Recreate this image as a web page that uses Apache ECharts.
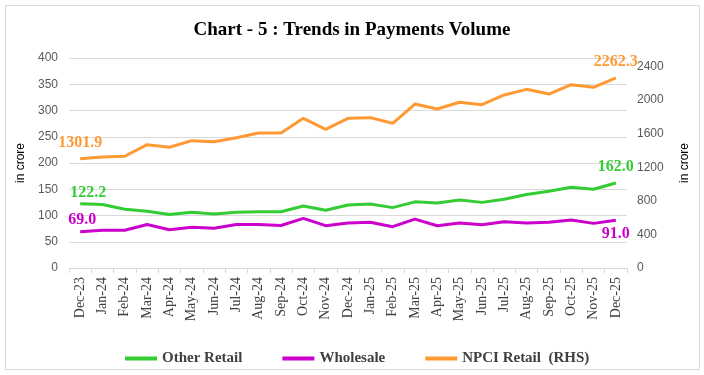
<!DOCTYPE html>
<html>
<head>
<meta charset="utf-8">
<script src="https://cdn.jsdelivr.net/npm/echarts@6/dist/echarts.min.js"></script>
<style>
  html, body { margin: 0; padding: 0; background: #fff; }
  #chart { width: 704px; height: 375px; }
</style>
</head>
<body>
<div id="chart"></div>
<script>
const months = [
  'Dec-23', 'Jan-24', 'Feb-24', 'Mar-24', 'Apr-24', 'May-24', 'Jun-24',
  'Jul-24', 'Aug-24', 'Sep-24', 'Oct-24', 'Nov-24', 'Dec-24', 'Jan-25',
  'Feb-25', 'Mar-25', 'Apr-25', 'May-25', 'Jun-25', 'Jul-25', 'Aug-25',
  'Sep-25', 'Oct-25', 'Nov-25', 'Dec-25'
]
// left axis, in crore
const otherRetail = [
  122.2, 121, 112, 108, 102, 106, 103, 106, 107, 107, 118, 110, 120,
  122, 115, 126, 124, 129.5, 125, 131, 140, 146, 153.7, 150, 162.0
]
const wholesale = [
  69.0, 71.8, 72, 83, 73, 77.5, 75.6, 83, 83, 81, 94.6, 80.6, 85.7,
  87, 78.7, 93, 80.6, 85.7, 82.5, 88, 85.7, 87, 91.4, 85, 91.0
]
// right axis, in crore
const npciRetail = [
  1301.9, 1321, 1330, 1468, 1437, 1516, 1504, 1551, 1607, 1607, 1782, 1651, 1782,
  1790, 1723, 1952, 1893, 1973, 1944, 2060, 2127, 2071, 2182, 2151, 2262.3
]

const labelFont = { fontFamily: 'Liberation Serif', fontWeight: 'bold', fontSize: 16 }

// only first and last points carry a label
function withEndLabels(values, color, firstPos, lastPos, firstOffset, lastOffset) {
  return values.map((v, i) => {
    if (i !== 0 && i !== values.length - 1) return v
    return {
      value: v,
      label: Object.assign({
        show: true,
        color: color,
        position: i === 0 ? firstPos : lastPos,
        distance: 8,
        offset: i === 0 ? (firstOffset || [0, 0]) : (lastOffset || [0, 0]),
        formatter: p => p.value.toFixed(1)
      }, labelFont)
    }
  })
}

function lineSeries(name, axis, color, data) {
  return {
    name: name,
    type: 'line',
    yAxisIndex: axis,
    symbol: 'circle',
    symbolSize: 0,
    showSymbol: true,
    color: color,
    lineStyle: { width: 3 },
    data: data
  }
}

const chart = echarts.init(document.getElementById('chart'))
chart.setOption({
  animation: false,
  graphic: [{
    type: 'rect',
    shape: { x: 5.5, y: 5.5, width: 694, height: 364 },
    style: { fill: 'none', stroke: '#d9d9d9', lineWidth: 1 },
    silent: true
  }],
  title: {
    text: 'Chart - 5 : Trends in Payments Volume',
    left: 'center',
    top: 16,
    textStyle: { fontFamily: 'Liberation Serif', fontWeight: 'bold', fontSize: 19, color: '#000' }
  },
  legend: {
    left: 120,
    top: 346,
    itemWidth: 32,
    itemHeight: 4,
    itemGap: 40,
    icon: 'rect',
    textStyle: { fontFamily: 'Liberation Serif', fontWeight: 'bold', fontSize: 15, color: '#404040' }
  },
  grid: { left: 69, right: 77, top: 58, bottom: 107 },
  xAxis: {
    type: 'category',
    data: months,
    boundaryGap: true,
    axisLine: { lineStyle: { color: '#d9d9d9' } },
    axisTick: { show: true, length: 5, lineStyle: { color: '#d9d9d9' } },
    axisLabel: {
      rotate: 90,
      interval: 0,
      margin: 9,
      fontFamily: 'Liberation Serif',
      fontSize: 14,
      color: '#404040'
    }
  },
  yAxis: [
    {
      type: 'value',
      min: 0,
      max: 400,
      interval: 50,
      name: 'in crore',
      nameLocation: 'middle',
      nameGap: 40,
      nameRotate: 90,
      nameTextStyle: { fontFamily: 'Liberation Sans', fontSize: 12, color: '#000' },
      axisLine: { show: false },
      axisTick: { show: false },
      axisLabel: { margin: 11, fontFamily: 'Liberation Sans', fontSize: 12, color: '#595959' },
      splitLine: { lineStyle: { color: '#d9d9d9' } }
    },
    {
      type: 'value',
      min: 0,
      max: 2500,
      interval: 400,
      name: 'in crore',
      nameLocation: 'middle',
      nameGap: 52,
      nameRotate: 90,
      nameTextStyle: { fontFamily: 'Liberation Sans', fontSize: 12, color: '#000' },
      axisLine: { show: false },
      axisTick: { show: false },
      axisLabel: {
        margin: 10,
        showMaxLabel: false,
        formatter: v => String(v),
        fontFamily: 'Liberation Sans',
        fontSize: 12,
        color: '#595959'
      },
      splitLine: { show: false }
    }
  ],
  series: [
    lineSeries('Other Retail', 0, '#33cc33',
      withEndLabels(otherRetail, '#33cc33', 'top', 'top', [8, 5])),
    lineSeries('Wholesale', 0, '#cc00cc',
      withEndLabels(wholesale, '#cc00cc', 'top', 'bottom', [2, 4], [0, -2])),
    lineSeries('NPCI Retail  (RHS)', 1, '#ff9933',
      withEndLabels(npciRetail, '#ff9933', 'top', 'top'))
  ]
})
</script>
</body>
</html>
